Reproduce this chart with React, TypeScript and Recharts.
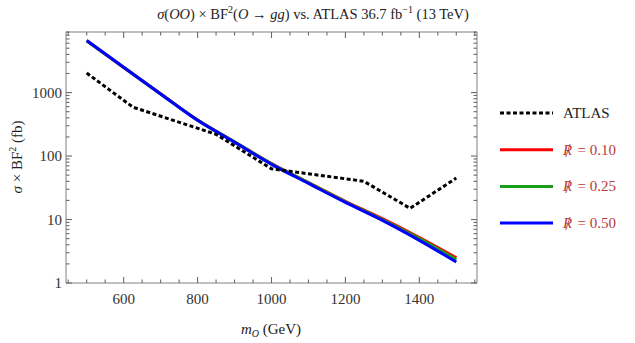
import React from "react";
import { LineChart, Line, XAxis, YAxis } from "recharts";

const atlasMass = [500, 625, 850, 1000, 1250, 1375, 1500];
const atlasXsec = [2030, 590, 220, 63, 40, 15, 45];

const modelMass = [500, 600, 700, 800, 900, 1000, 1100, 1200, 1300, 1400, 1500];
const r010 = [6550, 2490, 955, 370, 168, 76, 38.3, 19.4, 10.3, 5.2, 2.5];
const r025 = [6580, 2495, 952, 368, 167, 75.5, 37.8, 19.0, 10.0, 5.0, 2.34];
const r050 = [6600, 2500, 950, 365, 165, 74, 37, 18.6, 9.7, 4.7, 2.14];

const xTicks = [450, 500, 550, 600, 650, 700, 750, 800, 850, 900, 950, 1000, 1050, 1100, 1150, 1200, 1250, 1300, 1350, 1400, 1450, 1500, 1550];
const xMajor = [600, 800, 1000, 1200, 1400];
const yMajor = [1, 10, 100, 1000];
const yTicks = [1, 2, 3, 4, 5, 6, 7, 8, 9, 10, 20, 30, 40, 50, 60, 70, 80, 90, 100, 200, 300, 400, 500, 600, 700, 800, 900, 1000, 2000, 3000, 4000, 5000, 6000, 7000, 8000, 9000];

const legendLabels = ["ATLAS", "= 0.10", "= 0.25", "= 0.50"];
const legendColors = ["#000000", "#ff0000", "#1a9e1a", "#0000ff"];

const atlasData = atlasMass.map((m, i) => ({ m, v: atlasXsec[i] }));
const d010 = modelMass.map((m, i) => ({ m, v: r010[i] }));
const d025 = modelMass.map((m, i) => ({ m, v: r025[i] }));
const d050 = modelMass.map((m, i) => ({ m, v: r050[i] }));

const FONT = "'Liberation Serif', 'DejaVu Serif', serif";
const FRAME = "#808080";
const TXT = { fontFamily: FONT, fontSize: 15 } as React.CSSProperties;
const TICK = { stroke: "#6a6a6a", strokeWidth: 1.1 } as React.CSSProperties;

const XTick = (props: any) => {
  const { x, y, payload, orient } = props;
  const v = payload.value;
  const major = xMajor.includes(v);
  const len = major ? 6 : 3.5;
  const dir = orient === "bottom" ? -1 : 1;
  return (
    <g>
      <line x1={x} x2={x} y1={y} y2={y + dir * len} style={TICK} />
      {orient === "bottom" && major ? (
        <text x={x} y={y + 21} textAnchor="middle" style={TXT} fill="#333">
          {v}
        </text>
      ) : null}
    </g>
  );
};

const YTick = (props: any) => {
  const { x, y, payload, orient } = props;
  const v = payload.value;
  const major = yMajor.includes(v);
  const len = major ? 6 : 3.5;
  const dir = orient === "left" ? 1 : -1;
  return (
    <g>
      <line x1={x} x2={x + dir * len} y1={y} y2={y} style={TICK} />
      {orient === "left" && major ? (
        <text x={x - 4} y={y + 5} textAnchor="end" style={TXT} fill="#333">
          {v}
        </text>
      ) : null}
    </g>
  );
};

export default function App() {
  return (
    <div style={{ position: "absolute", left: 0, top: 0, width: 635, height: 343, background: "#fff" }}>
      <LineChart width={635} height={343} margin={{ top: 22, right: 148, bottom: 0, left: 0 }}>
        <XAxis
          xAxisId="b"
          dataKey="m"
          type="number"
          domain={[444, 1556]}
          allowDataOverflow
          ticks={xTicks}
          interval={0}
          orientation="bottom"
          height={60}
          tickSize={0}
          tickMargin={0}
          tickLine={false}
          axisLine={{ stroke: FRAME }}
          tick={(p: any) => <XTick {...p} orient="bottom" />}
        />
        <XAxis
          xAxisId="t"
          dataKey="m"
          type="number"
          domain={[444, 1556]}
          allowDataOverflow
          ticks={xTicks}
          interval={0}
          orientation="top"
          height={10}
          tickSize={0}
          tickMargin={0}
          tickLine={false}
          axisLine={{ stroke: FRAME }}
          tick={(p: any) => <XTick {...p} orient="top" />}
        />
        <YAxis
          yAxisId="l"
          type="number"
          scale="log"
          domain={[1, 9000]}
          allowDataOverflow
          ticks={yTicks}
          interval={0}
          orientation="left"
          width={66}
          tickSize={0}
          tickMargin={0}
          tickLine={false}
          axisLine={{ stroke: FRAME }}
          tick={(p: any) => <YTick {...p} orient="left" />}
        />
        <YAxis
          yAxisId="r"
          type="number"
          scale="log"
          domain={[1, 9000]}
          allowDataOverflow
          ticks={yTicks}
          interval={0}
          orientation="right"
          width={10}
          tickSize={0}
          tickMargin={0}
          tickLine={false}
          axisLine={{ stroke: FRAME }}
          tick={(p: any) => <YTick {...p} orient="right" />}
        />
        <Line xAxisId="b" yAxisId="l" data={d010} dataKey="v" type="monotone" stroke="#ff0000" strokeWidth={3} dot={false} isAnimationActive={false} />
        <Line xAxisId="b" yAxisId="l" data={d025} dataKey="v" type="monotone" stroke="#1a9e1a" strokeWidth={3} dot={false} isAnimationActive={false} />
        <Line xAxisId="b" yAxisId="l" data={d050} dataKey="v" type="monotone" stroke="#0000ff" strokeWidth={3} dot={false} isAnimationActive={false} />
        <Line xAxisId="b" yAxisId="l" data={atlasData} dataKey="v" type="linear" stroke="#000000" strokeWidth={3} strokeDasharray="4 2.5" dot={false} isAnimationActive={false} />
      </LineChart>
      <svg width={635} height={343} style={{ position: "absolute", left: 0, top: 0, pointerEvents: "none" }}>
        <text x={313} y={19} textAnchor="middle" style={{ ...TXT, fontSize: 14.5 }} fill="#222">
          <tspan fontStyle="italic">σ</tspan>(<tspan fontStyle="italic">OO</tspan>) × BF
          <tspan dy={-6} fontSize={10}>2</tspan>
          <tspan dy={6}>(</tspan><tspan fontStyle="italic">O</tspan> → <tspan fontStyle="italic">gg</tspan>) vs. ATLAS 36.7 fb
          <tspan dy={-6} fontSize={10}>−1</tspan>
          <tspan dy={6}> (13 TeV)</tspan>
        </text>
        <text x={271} y={334} textAnchor="middle" style={TXT} fill="#222">
          <tspan fontStyle="italic">m</tspan>
          <tspan fontStyle="italic" fontSize={10} dy={3}>O</tspan>
          <tspan dy={-3}> (GeV)</tspan>
        </text>
        <text transform="translate(22,157) rotate(-90)" textAnchor="middle" style={TXT} fill="#222">
          <tspan fontStyle="italic">σ</tspan> × BF
          <tspan dy={-6} fontSize={10}>2</tspan>
          <tspan dy={6}> (fb)</tspan>
        </text>
        {legendLabels.map((label, i) => {
          const y = 113 + i * 36.7;
          return (
            <g key={label}>
              <line x1={500} x2={553} y1={y} y2={y} stroke={legendColors[i]} strokeWidth={3} strokeDasharray={i === 0 ? "4 2.5" : undefined} />
              {i === 0 ? (
                <text x={563} y={y + 5} style={TXT} fill="#222">{label}</text>
              ) : (
                <text x={563} y={y + 5} style={TXT} fill="#b83a3a">
                  <tspan fontStyle="italic">R</tspan>
                  <tspan dx={-7} dy={2} style={{ fontSize: 19 }}>/</tspan>
                  <tspan dx={7} dy={-2}>{label}</tspan>
                </text>
              )}
            </g>
          );
        })}
      </svg>
    </div>
  );
}
